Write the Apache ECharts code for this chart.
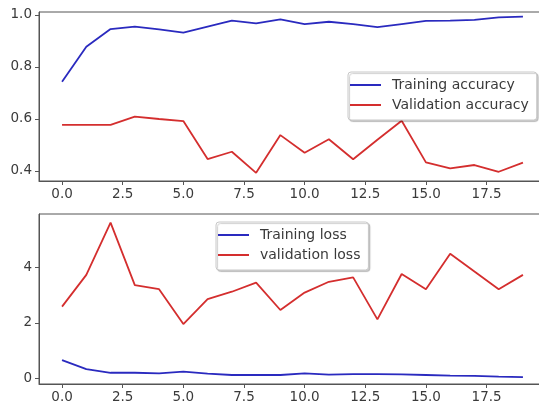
<!DOCTYPE html>
<html>
<head>
<meta charset="utf-8">
<script src="https://cdn.jsdelivr.net/npm/echarts@6/dist/echarts.min.js"></script>
<style>
html,body{margin:0;padding:0;background:#fff;}
#c{width:539px;height:410px;}
</style>
</head>
<body>
<div id="c"></div>
<script>
const epochs = [0,1,2,3,4,5,6,7,8,9,10,11,12,13,14,15,16,17,18,19];
const trainAcc = [0.743,0.878,0.946,0.955,0.945,0.932,0.955,0.978,0.968,0.983,0.965,0.974,0.965,0.953,0.965,0.977,0.978,0.981,0.991,0.994];
const valAcc = [0.577,0.577,0.577,0.609,0.600,0.592,0.446,0.474,0.393,0.538,0.470,0.522,0.445,0.520,0.593,0.433,0.410,0.423,0.397,0.432];
const trainLoss = [0.66,0.33,0.20,0.20,0.18,0.24,0.17,0.12,0.12,0.12,0.18,0.13,0.15,0.15,0.14,0.12,0.10,0.09,0.06,0.04];
const valLoss = [2.59,3.74,5.63,3.37,3.22,1.96,2.86,3.13,3.46,2.47,3.10,3.49,3.65,2.13,3.77,3.22,4.50,3.86,3.22,3.74];
const xTicks = [0,2.5,5,7.5,10,12.5,15,17.5];
const accTicks = [0.4,0.6,0.8,1.0];
const lossTicks = [0,2,4];
const legendAcc = ['Training accuracy','Validation accuracy'];
const legendLoss = ['Training loss','validation loss'];

const BLUE = '#2a2abf';
const RED = '#d42e2e';
const AX = '#555';
const TXT = '#3a3a3a';
const FONT = 'DejaVu Sans';

function pairs(ys){ return epochs.map((e,i)=>[e, ys[i]]); }

function xAxis(gi){
  return {
    type:'value', gridIndex:gi, min:-0.95, max:19.95,
    axisLine:{show:true, onZero:false, lineStyle:{color:AX, width:1}},
    axisTick:{show:true, length:4, inside:false, lineStyle:{color:AX}, customValues:xTicks},
    axisLabel:{show:true, margin:6, color:TXT, fontSize:13.5, fontFamily:FONT, customValues:xTicks,
      formatter:v=>v.toFixed(1)},
    splitLine:{show:false}
  };
}
function yAxis(gi, min, max, ticks, dec){
  return {
    type:'value', gridIndex:gi, min:min, max:max,
    axisLine:{show:true, onZero:false, lineStyle:{color:AX, width:1}},
    axisTick:{show:true, length:4, inside:false, lineStyle:{color:AX}, customValues:ticks},
    axisLabel:{show:true, margin:7, color:TXT, fontSize:13.5, fontFamily:FONT, customValues:ticks,
      formatter:v=>v.toFixed(dec)},
    splitLine:{show:false}
  };
}
function line(name, ys, color, gi){
  return {name:name, type:'line', xAxisIndex:gi, yAxisIndex:gi, data:pairs(ys),
    showSymbol:false, symbol:'none', lineStyle:{color:color, width:1.8}, itemStyle:{color:color},
    animation:false};
}
function legend(names, left, top){
  return {
    data:names, orient:'vertical', left:left, top:top,
    icon:'rect', itemWidth:31, itemHeight:2, itemGap:6,
    padding:[6,8,8,2],
    backgroundColor:'#fff', borderColor:'#c8c8c8', borderWidth:1, borderRadius:3,
    shadowColor:'rgba(0,0,0,0.2)', shadowOffsetX:1.5, shadowOffsetY:1.5, shadowBlur:1,
    textStyle:{color:TXT, fontSize:14, fontFamily:FONT, padding:[0,0,0,6]},
    selectedMode:false
  };
}

const chart = echarts.init(document.getElementById('c'), null, {renderer:'canvas'});
chart.setOption({
  backgroundColor:'#fff',
  animation:false,
  grid:[
    {left:39, top:12, width:507, height:169, show:true, borderColor:AX, borderWidth:1, containLabel:false, outerBoundsMode:'none'},
    {left:39, top:214, width:507, height:170, show:true, borderColor:AX, borderWidth:1, containLabel:false, outerBoundsMode:'none'}
  ],
  xAxis:[xAxis(0), xAxis(1)],
  yAxis:[yAxis(0, 0.3615, 1.0115, accTicks, 1), yAxis(1, -0.206, 5.94, lossTicks, 0)],
  legend:[legend(legendAcc, 348, 72), legend(legendLoss, 216, 222)],
  series:[
    line(legendAcc[0], trainAcc, BLUE, 0),
    line(legendAcc[1], valAcc, RED, 0),
    line(legendLoss[0], trainLoss, BLUE, 1),
    line(legendLoss[1], valLoss, RED, 1)
  ]
});
</script>
</body>
</html>
